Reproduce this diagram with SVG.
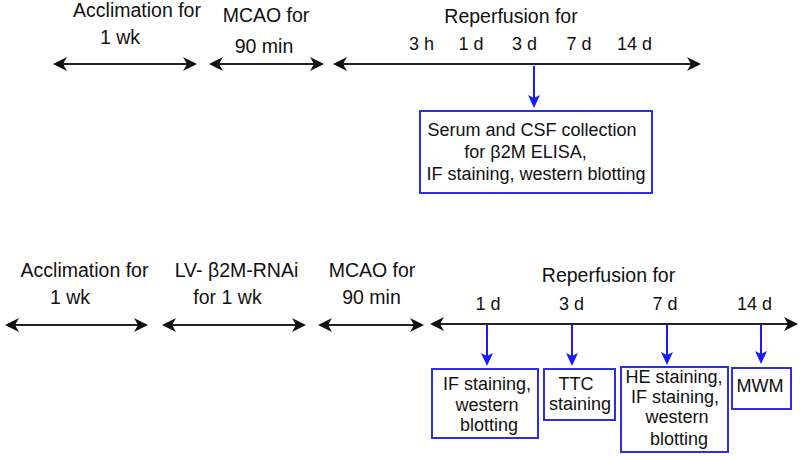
<svg xmlns="http://www.w3.org/2000/svg" width="800" height="456" viewBox="0 0 800 456">
<defs>
<marker id="bh" markerUnits="userSpaceOnUse" markerWidth="20" markerHeight="20" refX="0" refY="0" viewBox="-10 -10 20 20" orient="auto-start-reverse" overflow="visible">
<path d="M6,0 L-8,-7 L-4,0 L-8,7 Z" fill="#111"/>
</marker>
<marker id="bl" markerUnits="userSpaceOnUse" markerWidth="20" markerHeight="20" refX="0" refY="0" viewBox="-10 -10 20 20" orient="auto" overflow="visible">
<path d="M5,0 L-8,-6 L-5,0 L-8,6 Z" fill="#1a1aff"/>
</marker>
<style>
text{font-family:"Liberation Sans",Arial,sans-serif;fill:#111;}
.lb{font-size:19.5px;text-anchor:middle;}
.dy{font-size:18px;text-anchor:middle;}
.bx{font-size:18px;text-anchor:middle;}
.tl{stroke:#222;stroke-width:2;fill:none;marker-start:url(#bh);marker-end:url(#bh);}
.ba{stroke:#1a1aff;stroke-width:2;fill:none;marker-end:url(#bl);}
.box{fill:#fff;stroke:#2d2de6;stroke-width:2;}
</style>
</defs>
<rect width="800" height="456" fill="#fff"/>

<g id="connectors">
<line class="tl" x1="59" y1="64" x2="191" y2="64"/>
<line class="tl" x1="215" y1="64" x2="318" y2="64"/>
<line class="tl" x1="339" y1="64" x2="695" y2="64"/>
<line class="ba" x1="534" y1="66" x2="534" y2="103"/>
<line class="tl" x1="11" y1="325" x2="142" y2="325"/>
<line class="tl" x1="168" y1="325" x2="300" y2="325"/>
<line class="tl" x1="324" y1="325" x2="418" y2="325"/>
<line class="tl" x1="436" y1="324" x2="792" y2="324"/>
<line class="ba" x1="487" y1="325" x2="487" y2="361"/>
<line class="ba" x1="572" y1="325" x2="572" y2="361"/>
<line class="ba" x1="667" y1="325" x2="667" y2="360"/>
<line class="ba" x1="761" y1="325" x2="761" y2="359"/>
</g>

<g id="labels-top">
<text class="lb" x="137" y="17">Acclimation for</text>
<text class="lb" x="120" y="44">1 wk</text>
<text class="lb" x="266" y="22">MCAO for</text>
<text class="lb" x="264" y="53">90 min</text>
<text class="lb" x="511" y="23">Reperfusion for</text>
<text class="dy" x="421.5" y="50">3 h</text>
<text class="dy" x="471" y="50">1 d</text>
<text class="dy" x="524.5" y="50">3 d</text>
<text class="dy" x="579" y="50">7 d</text>
<text class="dy" x="634.5" y="50">14 d</text>
</g>

<g id="box-top">
<rect class="box" x="420" y="111" width="232" height="82"/>
<text class="bx" x="532" y="136">Serum and CSF collection</text>
<text class="bx" x="525.5" y="158">for β2M ELISA,</text>
<text class="bx" x="536" y="180">IF staining, western blotting</text>
</g>

<g id="labels-bottom">
<text class="lb" x="84.5" y="277">Acclimation for</text>
<text class="lb" x="70" y="304">1 wk</text>
<text class="lb" x="236.5" y="277">LV- β2M-RNAi</text>
<text class="lb" x="227.5" y="304">for 1 wk</text>
<text class="lb" x="372" y="277">MCAO for</text>
<text class="lb" x="371.5" y="304">90 min</text>
<text class="lb" x="608.5" y="282">Reperfusion for</text>
<text class="dy" x="488" y="310">1 d</text>
<text class="dy" x="571.5" y="310">3 d</text>
<text class="dy" x="665" y="310">7 d</text>
<text class="dy" x="754.5" y="310">14 d</text>
</g>

<g id="box-1d">
<rect class="box" x="432" y="369" width="106" height="69"/>
<text class="bx" x="487" y="390">IF staining,</text>
<text class="bx" x="487" y="411">western</text>
<text class="bx" x="489" y="431">blotting</text>
</g>

<g id="box-3d">
<rect class="box" x="544" y="369" width="71" height="51"/>
<text class="bx" x="576" y="390">TTC</text>
<text class="bx" x="580" y="410">staining</text>
</g>

<g id="box-7d">
<rect class="box" x="621" y="367" width="107" height="85"/>
<text class="bx" x="674" y="383">HE staining,</text>
<text class="bx" x="675" y="403">IF staining,</text>
<text class="bx" x="677" y="423">western</text>
<text class="bx" x="679" y="445">blotting</text>
</g>

<g id="box-14d">
<rect class="box" x="732" y="368" width="59" height="41"/>
<text class="bx" x="760" y="392">MWM</text>
</g>
</svg>
